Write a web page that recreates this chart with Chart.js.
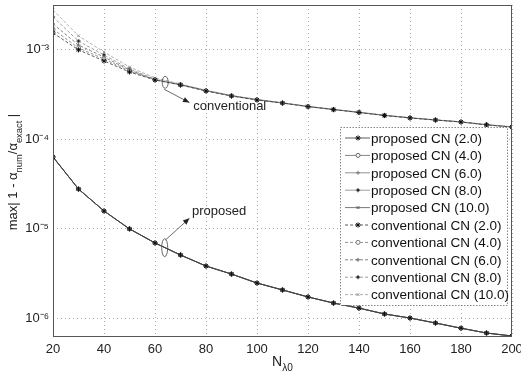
<!DOCTYPE html>
<html><head><meta charset="utf-8">
<script src="https://cdn.jsdelivr.net/npm/chart.js@4/dist/chart.umd.min.js"></script>
<style>html,body{margin:0;padding:0;background:#fff}#wrap{width:521px;height:374px}</style>
</head><body><div id="wrap"><canvas id="c" width="521" height="374"></canvas></div>
<script>
const categories = [20,30,40,50,60,70,80,90,100,110,120,130,140,150,160,170,180,190,200];
const xTicks = [20,40,60,80,100,120,140,160,180,200];
const yTicks = [1e-6,1e-5,1e-4,1e-3];
const seriesLabels = ['proposed CN (2.0)','proposed CN (4.0)','proposed CN (6.0)','proposed CN (8.0)','proposed CN (10.0)',
  'conventional CN (2.0)','conventional CN (4.0)','conventional CN (6.0)','conventional CN (8.0)','conventional CN (10.0)'];
const proposed2  = [6.3e-5,2.76e-5,1.57e-5,9.9e-6,6.9e-6,5.06e-6,3.81e-6,3.1e-6,2.46e-6,2.06e-6,1.72e-6,1.47e-6,1.29e-6,1.11e-6,1.0e-6,8.8e-7,7.7e-7,6.8e-7,6.3e-7];
const proposed4  = [6.3e-5,2.76e-5,1.57e-5,9.9e-6,6.9e-6,5.06e-6,3.81e-6,3.1e-6,2.46e-6,2.06e-6,1.72e-6,1.47e-6,1.29e-6,1.11e-6,1.0e-6,8.8e-7,7.7e-7,6.8e-7,6.3e-7];
const proposed6  = [6.3e-5,2.76e-5,1.57e-5,9.9e-6,6.9e-6,5.06e-6,3.81e-6,3.1e-6,2.46e-6,2.06e-6,1.72e-6,1.47e-6,1.29e-6,1.11e-6,1.0e-6,8.8e-7,7.7e-7,6.8e-7,6.3e-7];
const proposed8  = [6.3e-5,2.76e-5,1.57e-5,9.9e-6,6.9e-6,5.06e-6,3.81e-6,3.1e-6,2.46e-6,2.06e-6,1.72e-6,1.47e-6,1.29e-6,1.11e-6,1.0e-6,8.8e-7,7.7e-7,6.8e-7,6.3e-7];
const proposed10 = [6.3e-5,2.76e-5,1.57e-5,9.9e-6,6.9e-6,5.06e-6,3.81e-6,3.1e-6,2.46e-6,2.06e-6,1.72e-6,1.47e-6,1.29e-6,1.11e-6,1.0e-6,8.8e-7,7.7e-7,6.8e-7,6.3e-7];
const conventional2  = [1.53e-3,9.9e-4,7.45e-4,5.61e-4,4.56e-4,4.01e-4,3.44e-4,3.02e-4,2.73e-4,2.52e-4,2.30e-4,2.13e-4,1.98e-4,1.83e-4,1.72e-4,1.63e-4,1.55e-4,1.44e-4,1.36e-4];
const conventional4  = [1.69e-3,1.04e-3,7.83e-4,5.75e-4,4.58e-4,4.03e-4,3.45e-4,3.03e-4,2.74e-4,2.52e-4,2.30e-4,2.13e-4,1.98e-4,1.83e-4,1.72e-4,1.63e-4,1.55e-4,1.44e-4,1.36e-4];
const conventional6  = [1.93e-3,1.12e-3,8.24e-4,5.90e-4,4.60e-4,4.05e-4,3.46e-4,3.04e-4,2.75e-4,2.53e-4,2.31e-4,2.14e-4,1.98e-4,1.84e-4,1.72e-4,1.63e-4,1.55e-4,1.44e-4,1.36e-4];
const conventional8  = [2.31e-3,1.24e-3,8.68e-4,6.05e-4,4.68e-4,4.08e-4,3.48e-4,3.05e-4,2.76e-4,2.53e-4,2.31e-4,2.14e-4,1.99e-4,1.84e-4,1.73e-4,1.63e-4,1.55e-4,1.44e-4,1.37e-4];
const conventional10 = [2.76e-3,1.42e-3,9.37e-4,6.37e-4,4.81e-4,4.12e-4,3.50e-4,3.07e-4,2.77e-4,2.54e-4,2.32e-4,2.15e-4,1.99e-4,1.85e-4,1.73e-4,1.64e-4,1.56e-4,1.45e-4,1.37e-4];

const seriesValues = [proposed2,proposed4,proposed6,proposed8,proposed10,conventional2,conventional4,conventional6,conventional8,conventional10];
const pointStyles = ['star','circle','cross','rectRot','crossRot','star','circle','cross','rectRot','crossRot'];
const lineColors = ['#333','#666','#777','#888','#555','#333','#777','#666','#888','#999'];
const FONT = '"Liberation Sans", Arial, sans-serif';

const datasets = seriesValues.map((vals,i)=>({
  label: seriesLabels[i],
  data: categories.map((x,j)=>({x:x,y:vals[j]})),
  borderColor: lineColors[i],
  backgroundColor: i===1||i===6 ? '#fff' : '#222',
  pointBorderColor: i===0||i===5 ? '#111' : lineColors[i],
  borderWidth: 0.8,
  borderDash: i>=5 ? [3,2] : [],
  pointStyle: pointStyles[i],
  pointRadius: i===0||i===5 ? 2.6 : 2,
  pointBorderWidth: 1,
  tension: 0
}));

function richWidth(ctx, parts, size){
  let w=0;
  for(const p of parts){ ctx.font = (p.sub||p.sup? size*0.72 : size)+'px '+FONT; w+=ctx.measureText(p.t).width; }
  return w;
}
function drawRich(ctx, parts, x, y, size){
  const w = richWidth(ctx, parts, size);
  let cx = x - w/2;
  ctx.textBaseline='alphabetic'; ctx.textAlign='left';
  for(const p of parts){
    const s = p.sub||p.sup ? size*0.72 : size;
    ctx.font = s+'px '+FONT;
    const dy = p.sub ? size*0.35 : (p.sup ? -size*0.45 : 0);
    ctx.fillText(p.t, cx, y+dy);
    cx += ctx.measureText(p.t).width;
  }
}

const decor = {
  id:'decor',
  afterDraw(chart){
    const ctx = chart.ctx, a = chart.chartArea, xs = chart.scales.x, ys = chart.scales.y;
    ctx.save();
    // box
    ctx.strokeStyle='#555'; ctx.lineWidth=1; ctx.setLineDash([]);
    ctx.strokeRect(a.left+0.5, a.top+0.5, a.right-a.left-1, a.bottom-a.top-1);
    // axis titles
    ctx.fillStyle='#222';
    drawRich(ctx, [{t:'N'},{t:'λ0',sub:true}], (a.left+a.right)/2, 366, 14);
    ctx.save();
    ctx.translate(17, 172); ctx.rotate(-Math.PI/2);
    drawRich(ctx, [{t:'max| 1 - α'},{t:'num',sub:true},{t:'/α'},{t:'exact',sub:true},{t:' |'}], 0, 0, 13);
    ctx.restore();
    // annotations (placed in data coordinates)
    ctx.strokeStyle='#444'; ctx.fillStyle='#222'; ctx.lineWidth=0.8;
    function arrow(x1,y1,x2,y2){
      ctx.beginPath(); ctx.moveTo(x1,y1); ctx.lineTo(x2,y2); ctx.stroke();
      const ang=Math.atan2(y2-y1,x2-x1), L=7;
      ctx.beginPath(); ctx.moveTo(x2,y2);
      ctx.lineTo(x2-L*Math.cos(ang-0.4), y2-L*Math.sin(ang-0.4));
      ctx.lineTo(x2-L*Math.cos(ang+0.4), y2-L*Math.sin(ang+0.4));
      ctx.closePath(); ctx.fill();
    }
    // conventional
    const cx1 = xs.getPixelForValue(64), cy1 = ys.getPixelForValue(4.3e-4);
    ctx.beginPath(); ctx.ellipse(cx1, cy1, 3, 6, 0, 0, 2*Math.PI); ctx.stroke();
    arrow(cx1-1, cy1+7, xs.getPixelForValue(73.5), ys.getPixelForValue(2.55e-4));
    ctx.font='13px '+FONT; ctx.textAlign='left'; ctx.textBaseline='middle';
    ctx.fillText('conventional', xs.getPixelForValue(75), ys.getPixelForValue(2.3e-4));
    // proposed
    const px1 = xs.getPixelForValue(63.8), py1 = ys.getPixelForValue(6.1e-6);
    ctx.beginPath(); ctx.ellipse(px1, py1, 3, 9, 0, 0, 2*Math.PI); ctx.stroke();
    arrow(px1+1, py1-8, xs.getPixelForValue(73.5), ys.getPixelForValue(1.3e-5));
    ctx.fillText('proposed', xs.getPixelForValue(74.5), ys.getPixelForValue(1.55e-5));
    // legend
    const lx = 340, ly = 127, lw = 167, lh = 178, rowH = 17.4;
    ctx.fillStyle='#fff'; ctx.fillRect(lx, ly, lw, lh);
    ctx.strokeStyle='#666'; ctx.lineWidth=0.8; ctx.setLineDash([1.5,1.5]);
    ctx.strokeRect(lx+0.5, ly+0.5, lw, lh);
    chart.data.datasets.forEach((ds,i)=>{
      const yy = ly + 11 + i*rowH;
      ctx.strokeStyle = ds.borderColor; ctx.lineWidth=0.8;
      ctx.setLineDash(ds.borderDash);
      ctx.beginPath(); ctx.moveTo(lx+5, yy); ctx.lineTo(lx+30, yy); ctx.stroke();
      ctx.setLineDash([]);
      ctx.fillStyle = ds.backgroundColor; ctx.strokeStyle = ds.pointBorderColor; ctx.lineWidth=1;
      Chart.helpers.drawPoint(ctx, {pointStyle: ds.pointStyle, radius: ds.pointRadius, rotation:0, borderWidth:1}, lx+18, yy);
      ctx.fillStyle='#111'; ctx.font='13.5px '+FONT; ctx.textAlign='left'; ctx.textBaseline='middle';
      ctx.fillText(ds.label, lx+31, yy+1);
    });
    ctx.restore();
  }
};

new Chart(document.getElementById('c'), {
  type:'line',
  data:{ datasets },
  options:{
    responsive:false, animation:false,
    layout:{ padding:{ top:5, right:9, left:0, bottom:0 } },
    plugins:{ legend:{display:false}, tooltip:{enabled:false} },
    scales:{
      x:{ type:'linear', min:20, max:200,
        afterBuildTicks(s){ s.ticks = xTicks.map(v=>({value:v})); },
        afterFit(s){ s.height = 37; s.paddingLeft = 0; s.paddingRight = 0; },
        grid:{ color:'#999', lineWidth:0.8, tickLength:0, drawTicks:false },
        border:{ display:false, dash:[1,3] },
        ticks:{ color:'#222', font:{ family:FONT, size:13 }, padding:5, maxRotation:0, autoSkip:false }
      },
      y:{ type:'logarithmic', min:6.14e-7, max:3.14e-3,
        afterBuildTicks(s){ s.ticks = yTicks.map(v=>({value:v})); },
        afterFit(s){ s.width = 53; s.paddingTop = 0; s.paddingBottom = 0; },
        grid:{ color:'#999', lineWidth:0.8, drawTicks:false },
        border:{ display:false, dash:[1,3] },
        ticks:{ color:'#222', font:{ family:FONT, size:13 }, padding:4,
          callback(v){ const e=Math.round(Math.log10(v)); const sup={'-':'⁻','0':'⁰','1':'¹','2':'²','3':'³','4':'⁴','5':'⁵','6':'⁶','7':'⁷','8':'⁸','9':'⁹'}; return '10'+String(e).split('').map(c=>sup[c]).join(''); } }
      }
    }
  },
  plugins:[decor]
});
</script></body></html>
